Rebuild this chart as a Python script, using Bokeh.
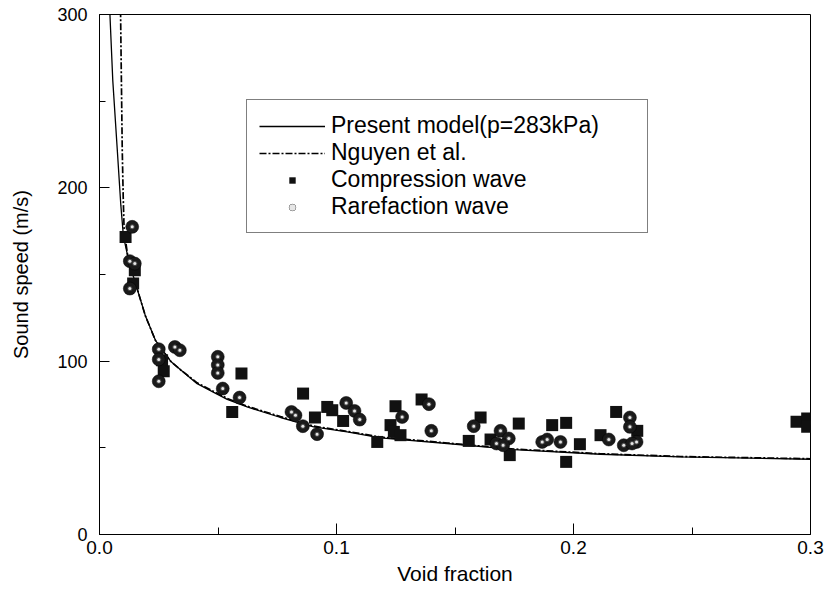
from bokeh.plotting import figure
from bokeh.models import FixedTicker, Legend, LegendItem, Range1d
from bokeh.embed import file_html
from bokeh.resources import INLINE

# ---- data ----
model_x = [0.0044, 0.0056, 0.0075, 0.0090, 0.0101, 0.0120, 0.0145, 0.0194, 0.0236, 0.0300,
           0.0342, 0.0412, 0.0482, 0.0539, 0.0623, 0.0764, 0.0904, 0.1045, 0.1186, 0.1467,
           0.1750, 0.2114, 0.2450, 0.3000]
model_y = [300, 262, 222, 190, 172, 160, 148, 126, 112, 100,
           95, 87, 82, 78, 73.6, 67.5, 62.1, 59.2, 55.8, 52.5,
           49.0, 46.3, 44.8, 43.4]

nguyen_x = [0.0087, 0.0089, 0.0093, 0.0096, 0.0100, 0.0104, 0.0120, 0.0145, 0.0194, 0.0236,
            0.0300, 0.0342, 0.0412, 0.0482, 0.0539, 0.0623, 0.0764, 0.0904, 0.1045, 0.1186,
            0.1467, 0.1750, 0.2114, 0.2450, 0.3000]
nguyen_y = [310, 300, 255, 222, 195, 175, 160, 148, 126, 112,
            100, 95, 87.5, 82.5, 78.5, 74, 68, 62.5, 59.5, 56.2,
            52.8, 49.3, 46.6, 45.0, 43.7]

comp_x = [0.0110, 0.0149, 0.0142, 0.0264, 0.0271, 0.0599, 0.0560, 0.0859, 0.0909, 0.0961,
          0.0982, 0.1028, 0.1172, 0.1249, 0.1228, 0.1242, 0.1270, 0.1359, 0.1558, 0.1608,
          0.1650, 0.1731, 0.1769, 0.1910, 0.1969, 0.1969, 0.2027, 0.2114, 0.2180, 0.2269,
          0.2941, 0.2986, 0.2986]
comp_y = [171.7, 152.5, 144.8, 100.6, 94.2, 92.9, 70.7, 81.3, 67.5, 73.6,
          71.7, 65.5, 53.4, 74.0, 63.1, 59.2, 57.3, 77.9, 54.0, 67.5,
          54.8, 45.8, 64.0, 63.1, 64.4, 41.9, 52.1, 57.3, 70.7, 59.8,
          65.0, 66.9, 62.1]

rare_x = [0.0138, 0.0128, 0.0149, 0.0128, 0.0250, 0.0250, 0.0250, 0.0318, 0.0339, 0.0499,
          0.0499, 0.0499, 0.0520, 0.0591, 0.0810, 0.0827, 0.0858, 0.0918, 0.1041, 0.1076,
          0.1098, 0.1277, 0.1390, 0.1400, 0.1579, 0.1692, 0.1727, 0.1675, 0.1703, 0.1868,
          0.1889, 0.1945, 0.2149, 0.2238, 0.2238, 0.2212, 0.2266, 0.2247]
rare_y = [177.5, 157.7, 156.3, 141.9, 106.9, 101.0, 88.4, 108.2, 106.3, 102.5,
          97.8, 93.2, 84.2, 79.0, 70.7, 68.8, 62.5, 57.9, 75.9, 71.3,
          66.3, 67.8, 75.2, 59.8, 62.5, 59.8, 55.4, 52.5, 51.5, 53.4,
          54.8, 53.4, 54.8, 67.5, 62.1, 51.5, 53.4, 52.5]

x_ticks = [0.0, 0.1, 0.2, 0.3]
x_tick_labels = ["0.0", "0.1", "0.2", "0.3"]
x_minor = [0.05, 0.15, 0.25]
y_ticks = [0, 100, 200, 300]
y_tick_labels = ["0", "100", "200", "300"]
y_minor = [50, 150, 250]

# ---- figure ----
p = figure(width=828, height=599, output_backend="svg", toolbar_location=None,
           x_range=Range1d(0, 0.3), y_range=Range1d(0, 300),
           min_border_left=99, min_border_right=18, min_border_top=14, min_border_bottom=65)
p.background_fill_color = "white"
p.border_fill_color = "white"
p.outline_line_color = "black"
p.outline_line_width = 1
p.xgrid.visible = False
p.ygrid.visible = False

p.xaxis.ticker = FixedTicker(ticks=x_ticks, minor_ticks=x_minor)
p.yaxis.ticker = FixedTicker(ticks=y_ticks, minor_ticks=y_minor)
p.xaxis.major_label_overrides = dict(zip(x_ticks, x_tick_labels))
p.yaxis.major_label_overrides = dict(zip(y_ticks, y_tick_labels))

for ax in (p.xaxis, p.yaxis):
    ax.axis_line_color = "black"
    ax.major_tick_line_color = "black"
    ax.minor_tick_line_color = "black"
    ax.major_tick_out = 0
    ax.minor_tick_out = 0
    ax.major_label_text_color = "black"
    ax.axis_label_text_color = "black"
    ax.axis_label_text_font_style = "normal"
    ax.major_label_text_font = "Liberation Sans"
    ax.axis_label_text_font = "Liberation Sans"

p.xaxis.major_tick_in = 11
p.xaxis.minor_tick_in = 7
p.yaxis.major_tick_in = 10
p.yaxis.minor_tick_in = 6

p.xaxis.axis_label = "Void fraction"
p.yaxis.axis_label = "Sound speed (m/s)"
p.xaxis.major_label_text_font_size = "19px"
p.xaxis.axis_label_text_font_size = "21px"
p.yaxis.major_label_text_font_size = "18px"
p.yaxis.axis_label_text_font_size = "20px"
p.xaxis.major_label_standoff = 6
p.xaxis.axis_label_standoff = 5
p.yaxis.major_label_standoff = 12
p.yaxis.axis_label_standoff = 22

# ---- curves ----
r_model = p.line(model_x, model_y, line_color="black", line_width=1.3)
r_ng = p.line(nguyen_x, nguyen_y, line_color="black", line_width=1.7, line_dash="7 2 2 2")

# ---- scatter ----
r_comp = p.scatter(comp_x, comp_y, marker="square", size=12, fill_color="#111111", line_color=None)
r_rare = p.scatter(rare_x, rare_y, marker="circle", size=13, fill_color="#1a1a1a",
                   line_color="#000000", line_width=0.5)
r_rare2 = p.scatter(rare_x, rare_y, marker="circle", size=5, fill_color="#4a4a4a", line_color=None)
r_rare3 = p.scatter(rare_x, rare_y, marker="circle", size=3, fill_color="#e6e6e6", line_color=None)

legend = Legend(items=[
    LegendItem(label="Present model(p=283kPa)", renderers=[r_model]),
    LegendItem(label="Nguyen et al.", renderers=[r_ng]),
    LegendItem(label="Compression wave", renderers=[r_comp]),
    LegendItem(label="Rarefaction wave", renderers=[r_rare, r_rare2, r_rare3]),
], location=(147, 301))
legend.label_text_font = "Liberation Sans"
legend.label_text_font_size = "23px"
legend.label_text_color = "black"
legend.glyph_width = 66
legend.glyph_height = 16
legend.label_height = 16
legend.label_width = 304
legend.label_standoff = 6
legend.spacing = 0
legend.padding = 12
legend.margin = 0
legend.border_line_color = "black"
legend.border_line_width = 1.2
legend.background_fill_alpha = 1
p.add_layout(legend, "center")

open("out.html", "w").write(file_html(p, INLINE))
